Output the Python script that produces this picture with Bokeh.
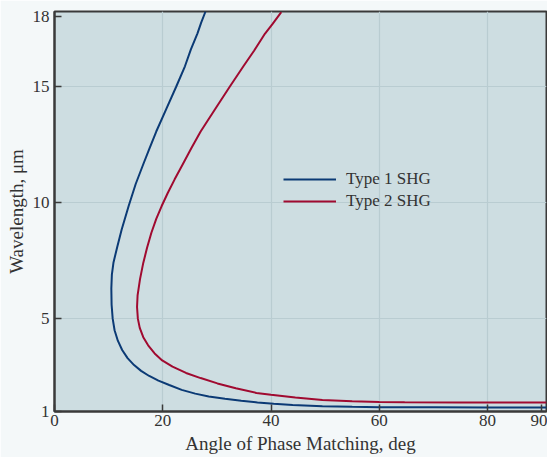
from bokeh.plotting import figure
from bokeh.models import FixedTicker, Legend, LegendItem, Range1d
from bokeh.embed import file_html
from bokeh.resources import INLINE

# Type 1 SHG: (angle deg, wavelength um)
type1_angle = [27.9, 27.1, 26.4, 25.2, 24.1, 22.5, 20.6, 18.8, 17.5, 16.4, 15.0,
               13.7, 12.4, 11.6, 10.9, 10.6, 10.5, 10.55, 10.75, 11.1, 11.7,
               12.5, 13.5, 14.7, 16.0, 17.5, 19.2, 21.2, 23.5, 26.0, 28.5, 31.5,
               34.5, 37.5, 40.5, 44.0, 49.5, 55.0, 60.0, 70.0, 80.0, 90.9]
type1_wl = [18.23, 17.75, 17.28, 16.6, 15.87, 15.0, 14.0, 13.06, 12.3, 11.65, 10.8,
            9.85, 8.83, 8.1, 7.42, 6.9, 6.3, 5.6, 5.0, 4.5, 4.05,
            3.65, 3.3, 3.0, 2.75, 2.53, 2.33, 2.14, 1.93, 1.77, 1.65, 1.55,
            1.46, 1.39, 1.33, 1.28, 1.23, 1.2, 1.188, 1.178, 1.173, 1.17]

# Type 2 SHG
type2_angle = [41.9, 40.3, 38.9, 36.9, 34.9, 32.4, 29.6, 27.0, 25.3, 23.7, 22.2,
               20.9, 19.8, 18.8, 17.9, 17.1, 16.4, 15.8, 15.35, 15.25, 15.4, 15.75,
               16.4, 17.3, 18.5, 19.9, 21.8, 24.3, 27.0, 30.1, 33.5, 37.3, 40.0,
               44.5, 49.5, 55.0, 60.0, 64.7, 75.0, 90.9]
type2_wl = [18.2, 17.7, 17.28, 16.55, 15.87, 15.0, 14.0, 13.06, 12.35, 11.65, 11.0,
            10.4, 9.85, 9.3, 8.7, 8.05, 7.4, 6.7, 6.0, 5.5, 5.0, 4.6,
            4.2, 3.85, 3.5, 3.2, 2.93, 2.66, 2.44, 2.21, 2.0, 1.8, 1.72,
            1.6, 1.5, 1.44, 1.41, 1.395, 1.385, 1.385]

x_ticks = [0, 20, 40, 60, 80, 90]
y_ticks = [1, 5, 10, 15, 18]
x_grid = [20, 40, 60, 80]
y_grid = [5, 10, 15]

FONT = "Liberation Serif"
TXT = "#333333"

p = figure(width=547, height=457, output_backend="svg", toolbar_location=None,
           x_range=Range1d(0, 90.9), y_range=Range1d(1, 18.23),
           min_border_left=54, min_border_top=11, min_border_right=1,
           min_border_bottom=46)

p.background_fill_color = "#cddde1"
p.border_fill_color = "#f4f8f9"
p.outline_line_color = "#3a3a3a"
p.outline_line_width = 2

l1 = p.line(type1_angle, type1_wl, line_color="#0b3a75", line_width=2)
l2 = p.line(type2_angle, type2_wl, line_color="#a00a30", line_width=2)

for ax in (p.xaxis[0], p.yaxis[0]):
    ax.axis_line_color = "#3a3a3a"
    ax.axis_line_width = 2
    ax.major_tick_in = 7
    ax.major_tick_out = 0
    ax.major_tick_line_color = "#3a3a3a"
    ax.major_tick_line_width = 1.5
    ax.minor_tick_line_color = None
    ax.major_label_text_font = FONT
    ax.major_label_text_font_size = "17px"
    ax.major_label_text_color = TXT
    ax.axis_label_text_font = FONT
    ax.axis_label_text_font_size = "19px"
    ax.axis_label_text_font_style = "normal"
    ax.axis_label_text_color = TXT

p.xaxis.ticker = FixedTicker(ticks=x_ticks)
p.yaxis.ticker = FixedTicker(ticks=y_ticks)
p.xaxis.axis_label = "Angle of Phase Matching, deg"
p.yaxis.axis_label = "Wavelength, μm"
p.xaxis.major_label_standoff = 3
p.xaxis.axis_label_standoff = 4
p.yaxis.major_label_standoff = 5
p.yaxis.axis_label_standoff = 3

p.xgrid.ticker = FixedTicker(ticks=x_grid)
p.ygrid.ticker = FixedTicker(ticks=y_grid)
p.xgrid.grid_line_color = "#b9ccd1"
p.ygrid.grid_line_color = "#b9ccd1"
p.xgrid.grid_line_width = 1.2
p.ygrid.grid_line_width = 1.2

legend = Legend(items=[LegendItem(label="Type 1 SHG", renderers=[l1]),
                       LegendItem(label="Type 2 SHG", renderers=[l2])],
                location=(229, 200), padding=0, margin=0, spacing=2,
                glyph_width=53, glyph_height=20, label_height=20,
                label_standoff=10,
                background_fill_alpha=0, border_line_color=None,
                label_text_font=FONT, label_text_font_size="17px",
                label_text_color=TXT)
p.add_layout(legend)

open("out.html", "w").write(file_html(p, INLINE))
